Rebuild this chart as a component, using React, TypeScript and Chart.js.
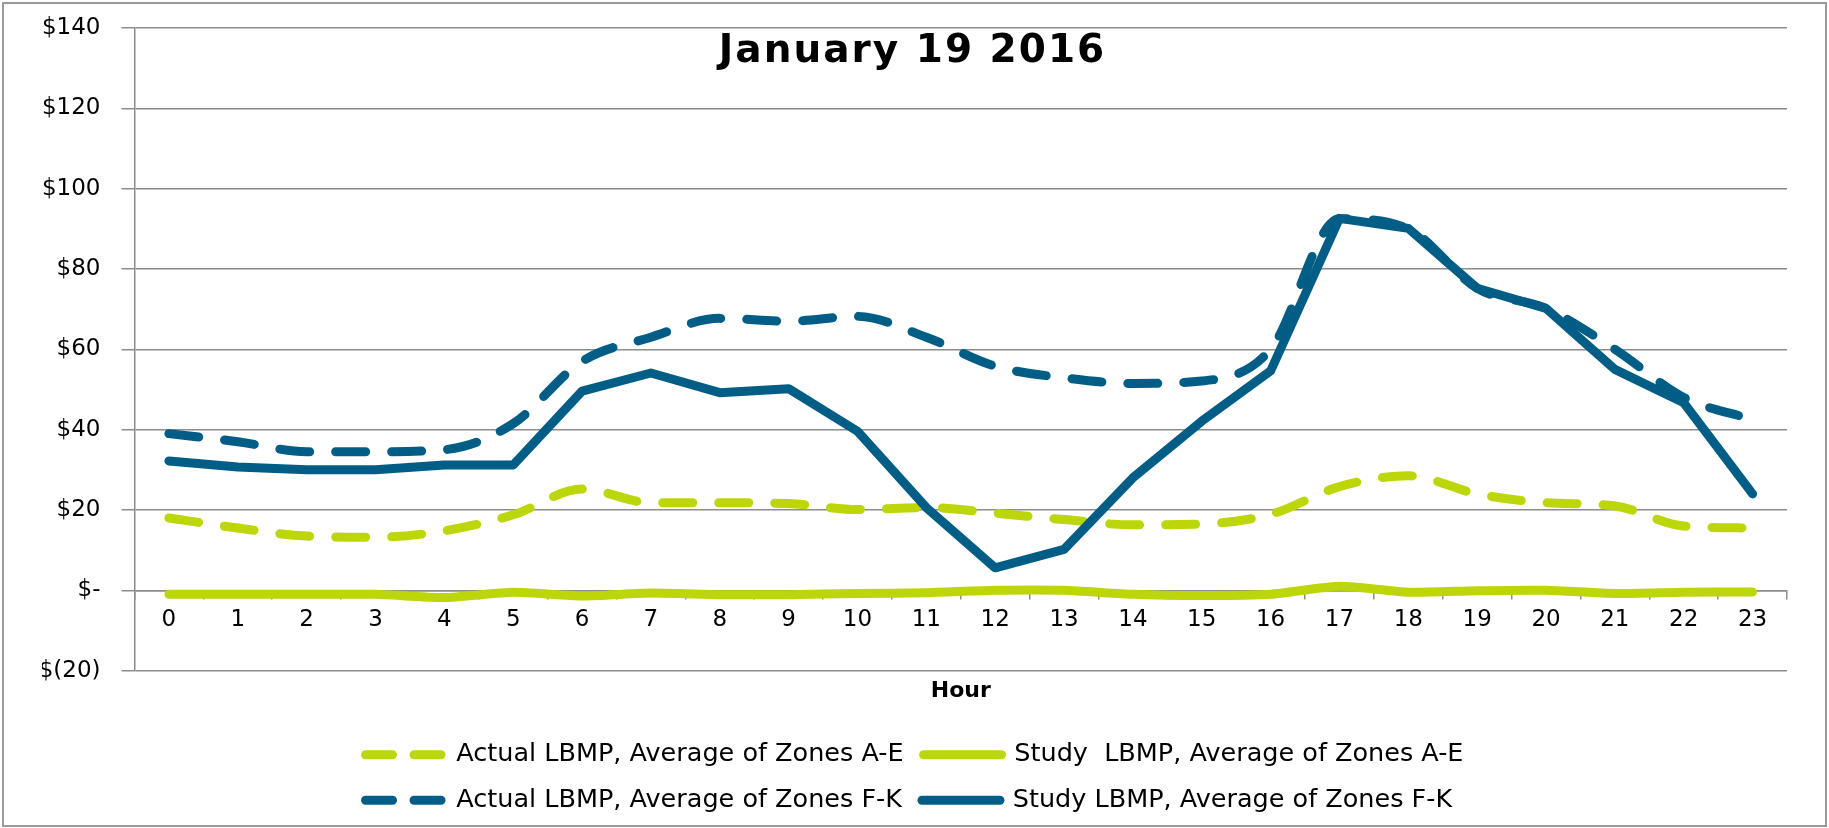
import React, { useEffect, useRef } from 'react';
import { Chart, registerables } from 'chart.js';

Chart.register(...registerables);

const TITLE = 'January 19 2016';
const X_TITLE = 'Hour';

const HOURS = ['0', '1', '2', '3', '4', '5', '6', '7', '8', '9', '10', '11', '12', '13', '14', '15', '16', '17', '18', '19', '20', '21', '22', '23'];

const ACTUAL_AE = [18, 15.5, 13.5, 13.2, 14.8, 18.8, 25.2, 21.8, 21.8, 21.6, 20.1, 20.6, 19.2, 17.6, 16.3, 16.5, 18.9, 25.8, 28.5, 24, 21.8, 21, 16, 15.5];
const STUDY_AE = [-1, -1, -1, -1, -1.8, -0.5, -1.4, -0.7, -1.1, -1.1, -0.8, -0.6, 0, 0, -1, -1.3, -1, 1, -0.5, -0.1, 0, -0.8, -0.5, -0.4];
const ACTUAL_FK = [39, 37, 34.5, 34.5, 35, 41.5, 57, 63, 67.7, 67, 68.2, 63, 55.8, 52.9, 51.5, 52.1, 60, 92.5, 90, 75.2, 70.2, 60, 48, 42.5];
const STUDY_FK = [32.2, 30.7, 30, 30, 31.2, 31.2, 49.6, 54.1, 49.2, 50.2, 39.6, 20.6, 5.6, 10.2, 28, 42.1, 54.6, 92.6, 90.1, 75.2, 70.2, 55, 46.7, 24];

const LABEL_ACTUAL_AE = 'Actual LBMP, Average of Zones A-E';
const LABEL_STUDY_AE = 'Study  LBMP, Average of Zones A-E';
const LABEL_ACTUAL_FK = 'Actual LBMP, Average of Zones F-K';
const LABEL_STUDY_FK = 'Study LBMP, Average of Zones F-K';

const Y_MIN = -20;
const Y_MAX = 140;
const Y_STEP = 20;

const GREEN = '#bcd60a';
const TEAL = '#005e86';
const GRID = '#8c8c8c';
const FONT = '"DejaVu Sans", sans-serif';

const LINE_W = 9;
const DASH = [30, 26];
const LEGEND_DASH = [27, 21.5];
const LEGEND_WRAP_WIDTH = 1200;

const formatDollar = (v: number) => (v === 0 ? '$-' : v < 0 ? `$(${Math.abs(v)})` : `$${v}`);

const overlayTitle = {
  id: 'overlayTitle',
  afterDraw(chart: any) {
    const { ctx } = chart;
    ctx.save();
    ctx.font = `bold 39px ${FONT}`;
    try {
      (ctx as any).letterSpacing = '2px';
    } catch (e) {
      /* ignore */
    }
    ctx.fillStyle = '#000';
    ctx.textAlign = 'center';
    ctx.textBaseline = 'alphabetic';
    ctx.fillText(TITLE, chart.width / 2 - 2, 58);
    ctx.restore();
  },
};

const legendWrap = {
  id: 'legendWrap',
  beforeUpdate(chart: any) {
    const lg = chart.legend;
    if (lg && !lg.__wrapPatched) {
      const proto = Object.getPrototypeOf(lg);
      lg._fitRows = function (...args: any[]) {
        const full = this.maxWidth;
        this.maxWidth = LEGEND_WRAP_WIDTH;
        try {
          const r = proto._fitRows.apply(this, args);
          const widest = Math.max(...this.lineWidths);
          this.lineWidths = this.lineWidths.map(() => widest);
          return r;
        } finally {
          this.maxWidth = full;
        }
      };
      lg.__wrapPatched = true;
    }
  },
};

export default function App() {
  const ref = useRef<HTMLCanvasElement>(null);

  useEffect(() => {
    document.body.style.margin = '0';
    Chart.defaults.font.family = FONT;
    Chart.defaults.color = '#000';

    const chart = new Chart(ref.current as HTMLCanvasElement, {
      type: 'line',
      data: {
        labels: HOURS,
        datasets: [
          {
            label: LABEL_ACTUAL_AE,
            data: ACTUAL_AE,
            borderColor: GREEN,
            backgroundColor: GREEN,
            borderWidth: LINE_W,
            borderDash: DASH,
            borderCapStyle: 'round',
            borderJoinStyle: 'round',
            cubicInterpolationMode: 'monotone',
            pointRadius: 0,
            order: 3,
          },
          {
            label: LABEL_STUDY_AE,
            data: STUDY_AE,
            borderColor: GREEN,
            backgroundColor: GREEN,
            borderWidth: LINE_W,
            borderCapStyle: 'round',
            borderJoinStyle: 'round',
            tension: 0.2,
            pointRadius: 0,
            order: 2,
          },
          {
            label: LABEL_ACTUAL_FK,
            data: ACTUAL_FK,
            borderColor: TEAL,
            backgroundColor: TEAL,
            borderWidth: LINE_W,
            borderDash: DASH,
            borderCapStyle: 'round',
            borderJoinStyle: 'round',
            cubicInterpolationMode: 'monotone',
            pointRadius: 0,
            order: 1,
          },
          {
            label: LABEL_STUDY_FK,
            data: STUDY_FK,
            borderColor: TEAL,
            backgroundColor: TEAL,
            borderWidth: LINE_W,
            borderCapStyle: 'round',
            borderJoinStyle: 'round',
            tension: 0,
            pointRadius: 0,
            order: 0,
          },
        ],
      },
      options: {
        responsive: false,
        animation: false,
        layout: { padding: { top: 24, left: 38, right: 38, bottom: 2 } },
        plugins: {
          legend: {
            position: 'bottom',
            labels: {
              usePointStyle: true,
              pointStyle: 'line',
              pointStyleWidth: 78,
              padding: 20,
              color: '#000',
              font: { size: 25.5, family: FONT },
              sort: (a: any, b: any) => a.datasetIndex - b.datasetIndex,
              generateLabels: (c: any) => {
                const base = (Chart.defaults.plugins.legend.labels as any).generateLabels(c);
                return base.map((item: any) => {
                  const ds: any = c.data.datasets[item.datasetIndex];
                  return {
                    ...item,
                    lineDash: ds.borderDash ? LEGEND_DASH : [],
                    lineCap: 'round',
                    lineJoin: 'round',
                    lineWidth: ds.borderWidth,
                    strokeStyle: ds.borderColor,
                    fillStyle: ds.borderColor,
                  };
                });
              },
            },
          },
          tooltip: { enabled: false },
        },
        scales: {
          x: {
            type: 'category',
            position: { y: 0 } as any,
            offset: true,
            grid: {
              display: true,
              drawOnChartArea: false,
              drawTicks: true,
              tickLength: 8,
              color: GRID,
              lineWidth: 1.5,
              offset: true,
            },
            border: { display: true, color: GRID, width: 1.5 },
            ticks: { color: '#000', font: { size: 23 }, padding: 8, autoSkip: false, maxRotation: 0 },
          },
          x2: {
            type: 'category',
            axis: 'x',
            position: 'bottom',
            labels: HOURS,
            offset: true,
            grid: { display: false, drawTicks: false },
            border: { display: false },
            ticks: { display: false },
            title: {
              display: true,
              text: X_TITLE,
              color: '#000',
              font: { size: 22, weight: 'bold' },
              padding: { top: 7, bottom: 18 },
            },
          } as any,
          y: {
            min: Y_MIN,
            max: Y_MAX,
            ticks: {
              stepSize: Y_STEP,
              callback: (v: any) => formatDollar(Number(v)),
              color: '#000',
              font: { size: 23 },
              padding: 21,
            },
            grid: { color: GRID, lineWidth: 1.5, tickLength: 13 },
            border: { display: true, color: GRID, width: 1.5 },
            afterFit: (s: any) => {
              s.width = 92.5;
              s.paddingTop = 0;
              s.paddingBottom = 0;
            },
          },
        },
      },
      plugins: [overlayTitle, legendWrap],
    } as any);

    return () => chart.destroy();
  }, []);

  return (
    <div style={{ position: 'relative', width: 1829, height: 828, background: '#fff', overflow: 'hidden' }}>
      <div
        style={{
          position: 'absolute',
          left: 2,
          top: 2,
          width: 1825,
          height: 825,
          border: '2px solid #9a9a9a',
          boxSizing: 'border-box',
        }}
      />
      <canvas
        ref={ref}
        width={1821}
        height={821}
        style={{ position: 'absolute', left: 4, top: 4, width: 1821, height: 821 }}
      />
    </div>
  );
}
